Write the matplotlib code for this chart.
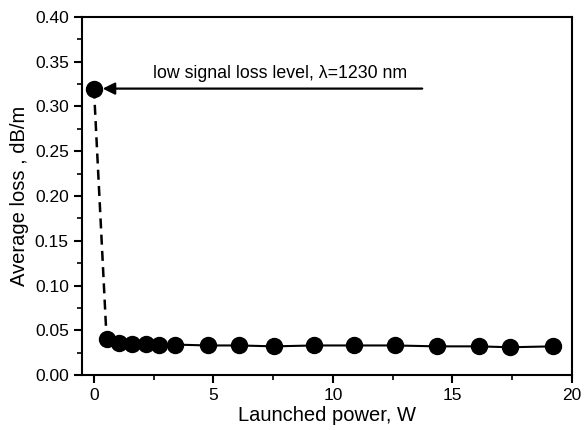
import matplotlib
matplotlib.use("Agg")
import matplotlib.pyplot as plt
from matplotlib.ticker import MultipleLocator

plt.rcParams['font.family'] = ['Liberation Sans', 'DejaVu Sans']

power = [0.0, 0.53, 1.05, 1.58, 2.17, 2.74, 3.37, 4.76, 6.08, 7.55, 9.2, 10.9, 12.6, 14.34, 16.1, 17.4, 19.2]
loss = [0.320, 0.040, 0.036, 0.035, 0.035, 0.034, 0.034, 0.033, 0.033, 0.032, 0.033, 0.033, 0.033, 0.032, 0.032, 0.031, 0.032]

fig = plt.figure(figsize=(5.88, 4.30), dpi=100)
ax = fig.add_axes([82/588, 1 - 375/430, (572-82)/588, (375-17)/430])

ax.plot(power[:2], loss[:2], color='black', lw=1.8, ls=(0, (4, 2.5)))
ax.plot(power[1:], loss[1:], color='black', lw=1.5)
ax.plot(power, loss, 'o', color='black', ms=11.5)

ax.annotate('', xy=(0.25, 0.32), xytext=(13.85, 0.32),
            arrowprops=dict(arrowstyle='-|>', color='black', lw=1.6, mutation_scale=18))
ax.text(7.8, 0.337, 'low signal loss level, λ=1230 nm', ha='center', va='center', fontsize=12.8)

ax.set_xlim(-0.5, 20)
ax.set_ylim(0, 0.40)
ax.xaxis.set_major_locator(MultipleLocator(5))
ax.xaxis.set_minor_locator(MultipleLocator(2.5))
ax.yaxis.set_major_locator(MultipleLocator(0.05))
ax.yaxis.set_minor_locator(MultipleLocator(0.025))
ax.yaxis.set_major_formatter(matplotlib.ticker.FormatStrFormatter('%.2f'))
ax.tick_params(which='major', direction='out', length=6, width=1.5, labelsize=12.5)
ax.tick_params(which='minor', direction='out', length=3.5, width=1.2)
for s in ax.spines.values():
    s.set_linewidth(1.5)
ax.set_xlabel('Launched power, W', fontsize=14.5, labelpad=2)
ax.set_ylabel('Average loss , dB/m', fontsize=14.5, labelpad=4)

fig.savefig('out.png', dpi=100)
